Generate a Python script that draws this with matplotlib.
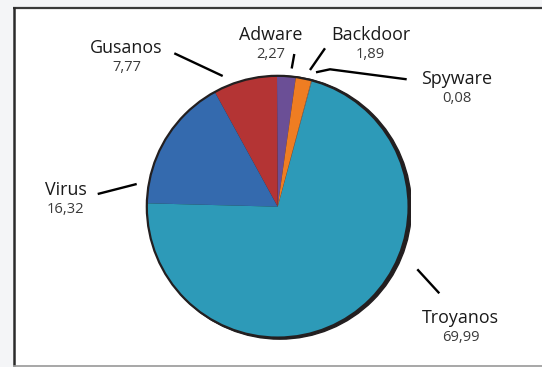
import matplotlib
matplotlib.use("Agg")
import matplotlib.pyplot as plt
from matplotlib.patches import Circle, Rectangle

plt.rcParams['font.family'] = ['Open Sans', 'DejaVu Sans']

# malware share (%), counterclockwise starting near the top
categories = ["Adware", "Gusanos", "Virus", "Troyanos", "Spyware", "Backdoor"]
values = [2.27, 7.77, 16.32, 69.99, 0.08, 1.89]
value_labels = ["2,27", "7,77", "16,32", "69,99", "0,08", "1,89"]
colors = ["#6b4f96", "#b43434", "#346aae", "#2d9ab8", "#8a8a8a", "#ef7d22"]

# label positions (pixels) and leader lines for each category
label_pos = {
    "Adware": (271, 35),
    "Gusanos": (126.5, 48),
    "Virus": (65.5, 190),
    "Troyanos": (460.5, 318),
    "Spyware": (457, 78.5),
    "Backdoor": (370.5, 35),
}
leaders = {
    "Adware": [(294.3, 54), (291.7, 68.5)],
    "Gusanos": [(174.3, 53.3), (222.7, 76)],
    "Virus": [(97.7, 194), (136.7, 184)],
    "Troyanos": [(417.3, 269.3), (439.3, 293.3)],
    "Spyware": [(316, 72.3), (330, 69.3), (406.7, 79.3)],
    "Backdoor": [(325, 48.3), (310, 70)],
}

W, H = 542, 367
fig = plt.figure(figsize=(W / 100, H / 100), dpi=100, facecolor="#f4f5f7")

# overlay in pixel coords for frame and labels
ov = fig.add_axes([0, 0, 1, 1])
ov.set_xlim(0, W)
ov.set_ylim(H, 0)
ov.axis("off")
ov.add_patch(Rectangle((13, 7), W - 13, 358, facecolor="white", edgecolor="none"))
ov.plot([13, W], [7.5, 7.5], color="#3a3a3a", lw=1.6, solid_capstyle="butt")
ov.plot([13.5, 13.5], [7, 366], color="#2a2a2a", lw=1.8, solid_capstyle="butt")
ov.plot([13, W], [365.5, 365.5], color="#9a9a9a", lw=1.2, solid_capstyle="butt")

for name, val in zip(categories, value_labels):
    x, y = label_pos[name]
    ov.text(x, y, name, ha="center", va="center", fontsize=12.9, color="#1a1a1a")
    ov.text(x, y + 19.5, val, ha="center", va="center", fontsize=10.6, color="#3a3a3a")
    xs, ys = zip(*leaders[name])
    ov.plot(xs, ys, color="black", lw=1.7, solid_capstyle="butt")

# pie axes: centre (277.7, 206.7), radius 133.5 px
cx, cy, r = 277.7, 206.7, 133.5
ax = fig.add_axes([(cx - r) / W, (H - cy - r) / H, 2 * r / W, 2 * r / H])
ax.set_xlim(-1.02, 1.02)
ax.set_ylim(-1.02, 1.02)
ax.set_aspect("equal")
ax.axis("off")
ax.add_patch(Circle((0.016, -0.006), 1.006, color="#231f20", zorder=0))
ax.pie(values, colors=colors, startangle=82, counterclock=True,
       wedgeprops=dict(linewidth=0), radius=1.0)
ax.add_patch(Circle((0, 0), 1.0, fill=False, edgecolor="#231f20", lw=1.6, zorder=5))
ax.set_xlim(-1.02, 1.02)
ax.set_ylim(-1.02, 1.02)

fig.savefig("out.png", dpi=100, facecolor=fig.get_facecolor())
